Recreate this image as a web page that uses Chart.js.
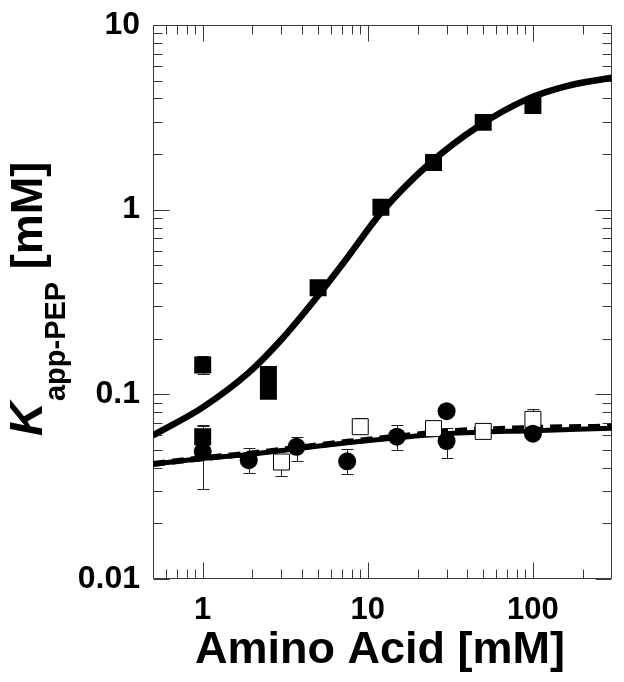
<!DOCTYPE html>
<html><head><meta charset="utf-8">
<script src="https://cdn.jsdelivr.net/npm/chart.js@4.4.1/dist/chart.umd.min.js"></script>
<style>html,body{margin:0;padding:0;background:#fff;}#wrap{width:624px;height:682px;}</style>
</head><body><div id="wrap"><canvas id="c" width="624" height="682"></canvas></div>
<script>
// ---- data ----
const xTickLabels = [1, 10, 100];
const yTickLabels = [0.01, 0.1, 1, 10];

// filled squares
const sqFilledX = [1, 1, 2.5, 2.5, 5, 12, 25, 50, 100];
const sqFilledY = [0.144, 0.059, 0.128, 0.104, 0.378, 1.03, 1.80, 2.97, 3.67];
const sqFilledLow = [0.129, 0.051, null, null, null, null, null, null, null];
const sqFilledHigh = [0.162, 0.068, null, null, null, null, null, null, null];

// filled circles
const circX = [1, 1.9, 3.7, 7.5, 15, 30, 30, 100];
const circY = [0.049, 0.044, 0.052, 0.0434, 0.059, 0.081, 0.0558, 0.0612];
const circLow = [0.0306, 0.0377, 0.0438, 0.0369, 0.0498, null, 0.0454, null];
const circHigh = [0.067, 0.051, 0.059, 0.0508, 0.0685, null, 0.066, null];

// open squares
const sqOpenX = [3, 9, 25, 50, 100];
const sqOpenY = [0.043, 0.0668, 0.0652, 0.063, 0.0732];
const sqOpenLow = [0.036, null, null, null, null];
const sqOpenHigh = [null, 0.0744, null, null, 0.0837];

// fitted curves
const fitTopX = [0.5, 1, 1.9, 3, 4.8, 7.3, 12, 23, 47, 93, 160, 300];
const fitTopY = [0.060, 0.085, 0.131, 0.198, 0.327, 0.53, 0.96, 1.74, 2.84, 3.98, 4.67, 5.18];
const fitSolidX = [0.5, 1, 1.9, 3.7, 7.5, 15, 30, 100, 300];
const fitSolidY = [0.0418, 0.0449, 0.0473, 0.0508, 0.0547, 0.0582, 0.0612, 0.0636, 0.0655];
const fitDashX = [0.5, 1, 1.9, 3.7, 7.5, 15, 30, 100, 300];
const fitDashY = [0.0420, 0.0451, 0.0477, 0.0513, 0.0553, 0.0590, 0.0628, 0.0658, 0.0668];

const xMinorTicks = [0.5,0.6,0.7,0.8,0.9,2,3,4,5,6,7,8,9,20,30,40,50,60,70,80,90,200];
const yMinorTicks = [0.02,0.03,0.04,0.05,0.06,0.07,0.08,0.09,0.2,0.3,0.4,0.5,0.6,0.7,0.8,0.9,2,3,4,5,6,7,8,9];

const pts = (xs, ys) => xs.map((x, i) => ({x: x, y: ys[i]}));
const FONT = "'Liberation Sans', Arial, sans-serif";
Chart.defaults.font.family = FONT;

const errorSets = [
  {xs: sqFilledX, ys: sqFilledY, lo: sqFilledLow, hi: sqFilledHigh},
  {xs: circX, ys: circY, lo: circLow, hi: circHigh},
  {xs: sqOpenX, ys: sqOpenY, lo: sqOpenLow, hi: sqOpenHigh}
];

const framePlugin = {
  id: 'frameTicks',
  beforeDatasetsDraw(chart) {
    const {ctx, chartArea: a, scales: {x, y}} = chart;
    ctx.save();
    ctx.strokeStyle = '#3a3a3a';
    ctx.lineWidth = 1;
    ctx.beginPath();
    const L = Math.round(a.left) + 0.5, R = Math.round(a.right) - 0.5;
    const T = Math.round(a.top) + 0.5, B = Math.round(a.bottom) - 0.5;
    ctx.rect(L, T, R - L, B - T);
    const xt = (v, len) => {
      const px = Math.round(x.getPixelForValue(v)) + 0.5;
      ctx.moveTo(px, B); ctx.lineTo(px, B - len);
      ctx.moveTo(px, T); ctx.lineTo(px, T + len);
    };
    xTickLabels.forEach(v => xt(v, 16));
    xMinorTicks.forEach(v => xt(v, 9));
    const yt = (v, len) => {
      const py = Math.round(y.getPixelForValue(v)) + 0.5;
      ctx.moveTo(L, py); ctx.lineTo(L + len, py);
      ctx.moveTo(R, py); ctx.lineTo(R - len, py);
    };
    yTickLabels.forEach(v => yt(v, 16));
    yMinorTicks.forEach(v => yt(v, 9));
    ctx.stroke();
    // error bars
    ctx.strokeStyle = '#222';
    ctx.beginPath();
    errorSets.forEach(s => {
      s.xs.forEach((xv, i) => {
        const px = Math.round(x.getPixelForValue(xv)) + 0.5;
        const p0 = y.getPixelForValue(s.ys[i]);
        [s.lo[i], s.hi[i]].forEach(ev => {
          if (ev == null) return;
          const p1 = Math.round(y.getPixelForValue(ev)) + 0.5;
          ctx.moveTo(px, p0); ctx.lineTo(px, p1);
          ctx.moveTo(px - 6, p1); ctx.lineTo(px + 6, p1);
        });
      });
    });
    ctx.stroke();
    ctx.restore();
  },
  afterDraw(chart) {
    const ctx = chart.ctx;
    ctx.save();
    ctx.fillStyle = '#000';
    // x title
    ctx.font = "bold 45px " + FONT;
    ctx.textAlign = 'center';
    ctx.textBaseline = 'alphabetic';
    ctx.fillText('Amino Acid [mM]', 380, 663);
    // y title (rotated)
    ctx.translate(42, 436);
    ctx.rotate(-Math.PI / 2);
    ctx.textAlign = 'left';
    ctx.font = "italic bold 47px " + FONT;
    ctx.fillText('K', 0, 0);
    let w = ctx.measureText('K').width + 1;
    ctx.font = "bold 29px " + FONT;
    ctx.fillText('app-PEP', w, 23);
    w += ctx.measureText('app-PEP').width;
    ctx.font = "bold 45px " + FONT;
    ctx.fillText(' [mM]', w, 0);
    ctx.restore();
  }
};

new Chart(document.getElementById('c'), {
  type: 'scatter',
  data: {
    datasets: [
      {label: 'filled squares', data: pts(sqFilledX, sqFilledY), pointStyle: 'rect', pointRadius: 12,
       backgroundColor: '#000', borderColor: '#000', borderWidth: 0, showLine: false, order: 0},
      {label: 'circles', data: pts(circX, circY), pointStyle: 'circle', pointRadius: 9,
       backgroundColor: '#000', borderColor: '#000', borderWidth: 0, showLine: false, order: 0},
      {label: 'open squares', data: pts(sqOpenX, sqOpenY), pointStyle: 'rect', pointRadius: 11.3,
       backgroundColor: '#fff', borderColor: '#000', borderWidth: 1, showLine: false, order: 0},
      {label: 'fit top', data: pts(fitTopX, fitTopY), showLine: true, pointRadius: 0, borderColor: '#000',
       borderWidth: 6.5, cubicInterpolationMode: 'monotone', fill: false, order: 2},
      {label: 'fit dashed', data: pts(fitDashX, fitDashY), showLine: true, pointRadius: 0, borderColor: '#000',
       borderWidth: 6, borderDash: [12, 7], cubicInterpolationMode: 'monotone', fill: false, order: 3},
      {label: 'fit solid', data: pts(fitSolidX, fitSolidY), showLine: true, pointRadius: 0, borderColor: '#000',
       borderWidth: 5, cubicInterpolationMode: 'monotone', fill: false, order: 4}
    ]
  },
  options: {
    responsive: false,
    animation: false,
    devicePixelRatio: 1,
    layout: {padding: {left: 0, right: 11, top: 25, bottom: 0}},
    plugins: {legend: {display: false}, tooltip: {enabled: false}},
    scales: {
      x: {
        type: 'logarithmic', min: 0.5, max: 300, position: 'bottom',
        grid: {display: false, drawTicks: false}, border: {display: false},
        ticks: {font: {size: 31, weight: 'bold'}, color: '#000', padding: 13, autoSkip: false, maxRotation: 0,
                callback: v => String(v)},
        afterBuildTicks: s => { s.ticks = xTickLabels.map(v => ({value: v})); },
        afterFit: s => { s.height = 103; }
      },
      y: {
        type: 'logarithmic', min: 0.01, max: 10, position: 'left',
        grid: {display: false, drawTicks: false}, border: {display: false},
        ticks: {font: {size: 32, weight: 'bold', lineHeight: 0.6}, color: '#000', padding: 13, autoSkip: false,
                callback: v => String(v)},
        afterBuildTicks: s => { s.ticks = yTickLabels.map(v => ({value: v})); },
        afterFit: s => { s.width = 153; }
      }
    }
  },
  plugins: [framePlugin]
});
</script>
</body></html>
